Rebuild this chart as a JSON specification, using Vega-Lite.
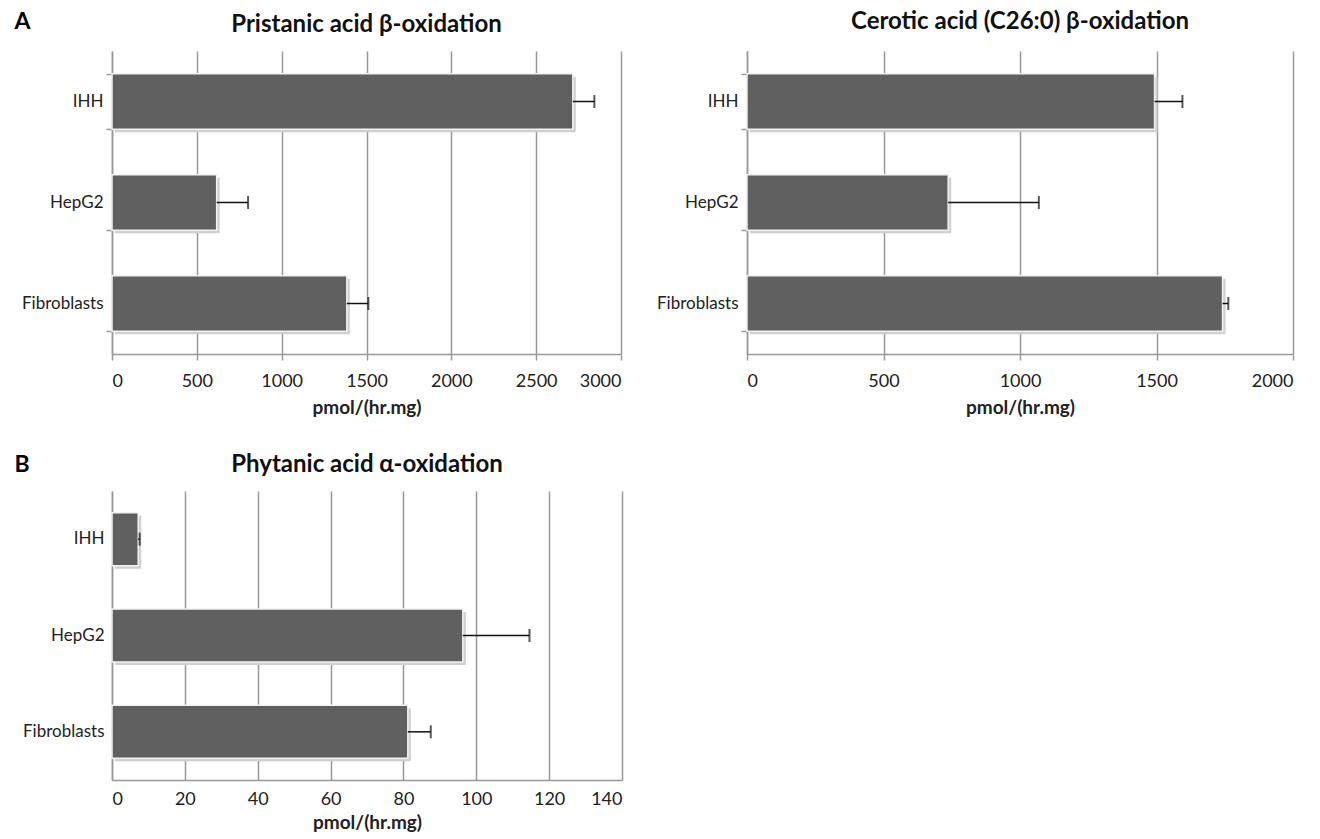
{
  "$schema": "https://vega.github.io/schema/vega-lite/v6.json",
  "padding": {"left": 14, "top": 10, "right": 5, "bottom": 0},
  "background": "white",
  "config": {
    "font": "Lato",
    "view": {"stroke": null},
    "title": {"font": "Lato", "fontSize": 24, "fontWeight": "bold", "color": "#111", "anchor": "middle", "offset": 8},
    "axis": {"labelFont": "Lato", "titleFont": "Lato", "domainColor": "#999", "tickColor": "#999", "gridColor": "#999", "domainWidth": 1.5, "tickWidth": 1.5, "gridWidth": 1.5, "labelColor": "#222", "titleColor": "#222"}
  },
  "data": {"values": [
    {"panel": "p1", "cell": "IHH", "value": 2716, "upper": 2843},
    {"panel": "p1", "cell": "HepG2", "value": 617, "upper": 802},
    {"panel": "p1", "cell": "Fibroblasts", "value": 1384, "upper": 1511},
    {"panel": "p2", "cell": "IHH", "value": 1493, "upper": 1595},
    {"panel": "p2", "cell": "HepG2", "value": 737, "upper": 1069},
    {"panel": "p2", "cell": "Fibroblasts", "value": 1742, "upper": 1763},
    {"panel": "p3", "cell": "IHH", "value": 7.2, "upper": 7.6},
    {"panel": "p3", "cell": "HepG2", "value": 96.3, "upper": 114.6},
    {"panel": "p3", "cell": "Fibroblasts", "value": 81.2, "upper": 87.5}
  ]},
  "columns": 2,
  "bounds": "flush",
  "align": "none",
  "spacing": {"row": 137, "column": 125},
  "concat": [
    {
      "width": 509, "height": 303,
      "title": {"text": "Pristanic acid β-oxidation", "offset": -27},
      "transform": [{"filter": "datum.panel === 'p1'"}],
      "encoding": {
        "y": {"field": "cell", "type": "nominal", "sort": ["IHH", "HepG2", "Fibroblasts"],
          "scale": {"paddingInner": 0.45, "paddingOuter": 0.225},
          "axis": {"title": "A", "titleAngle": 0, "titleX": -98, "titleY": -30, "titleAlign": "left", "titleBaseline": "middle", "titleFontSize": 23, "titleFontWeight": "bold", "titleColor": "#000", "labelFontSize": 17, "tickBand": "extent", "tickSize": 6, "labelPadding": 3}}
      },
      "layer": [
        {"mark": {"type": "bar", "color": "#d0d0d0", "xOffset": 3, "yOffset": 3},
         "encoding": {"x": {"field": "value", "type": "quantitative", "scale": {"domain": [0, 3000]},
           "axis": {"values": [0, 500, 1000, 1500, 2000, 2500, 3000], "format": "d", "grid": true, "title": "pmol/(hr.mg)", "titleFontSize": 19, "titleFontWeight": "bold", "labelFontSize": 18, "tickSize": 6, "labelPadding": 12, "titlePadding": 8}}}},
        {"mark": {"type": "bar", "color": "#606060", "stroke": "#f2f2f2", "strokeWidth": 1.5},
         "encoding": {"x": {"field": "value", "type": "quantitative"}}},
        {"mark": {"type": "rule", "color": "#111", "strokeWidth": 1.5},
         "encoding": {"x": {"field": "value", "type": "quantitative"}, "x2": {"field": "upper"}}},
        {"mark": {"type": "tick", "orient": "vertical", "color": "#111", "thickness": 2, "size": 13},
         "encoding": {"x": {"field": "upper", "type": "quantitative"}}}
      ]
    },
    {
      "width": 546, "height": 303,
      "title": {"text": "Cerotic acid (C26:0) β-oxidation"},
      "transform": [{"filter": "datum.panel === 'p2'"}],
      "encoding": {
        "y": {"field": "cell", "type": "nominal", "sort": ["IHH", "HepG2", "Fibroblasts"],
          "scale": {"paddingInner": 0.45, "paddingOuter": 0.225},
          "axis": {"title": null, "labelFontSize": 17, "tickBand": "extent", "tickSize": 6, "labelPadding": 3}}
      },
      "layer": [
        {"mark": {"type": "bar", "color": "#d0d0d0", "xOffset": 3, "yOffset": 3},
         "encoding": {"x": {"field": "value", "type": "quantitative", "scale": {"domain": [0, 2000]},
           "axis": {"values": [0, 500, 1000, 1500, 2000], "format": "d", "grid": true, "title": "pmol/(hr.mg)", "titleFontSize": 19, "titleFontWeight": "bold", "labelFontSize": 18, "tickSize": 6, "labelPadding": 12, "titlePadding": 8}}}},
        {"mark": {"type": "bar", "color": "#606060", "stroke": "#f2f2f2", "strokeWidth": 1.5},
         "encoding": {"x": {"field": "value", "type": "quantitative"}}},
        {"mark": {"type": "rule", "color": "#111", "strokeWidth": 1.5},
         "encoding": {"x": {"field": "value", "type": "quantitative"}, "x2": {"field": "upper"}}},
        {"mark": {"type": "tick", "orient": "vertical", "color": "#111", "thickness": 2, "size": 13},
         "encoding": {"x": {"field": "upper", "type": "quantitative"}}}
      ]
    },
    {
      "width": 510, "height": 289,
      "title": {"text": "Phytanic acid α-oxidation", "offset": -24},
      "transform": [{"filter": "datum.panel === 'p3'"}],
      "encoding": {
        "y": {"field": "cell", "type": "nominal", "sort": ["IHH", "HepG2", "Fibroblasts"],
          "scale": {"paddingInner": 0.45, "paddingOuter": 0.225},
          "axis": {"title": "B", "titleAngle": 0, "titleX": -98, "titleY": -27, "titleAlign": "left", "titleBaseline": "middle", "titleFontSize": 23, "titleFontWeight": "bold", "titleColor": "#000", "labelFontSize": 17, "ticks": false, "labelPadding": 8}}
      },
      "layer": [
        {"mark": {"type": "bar", "color": "#d0d0d0", "xOffset": 3, "yOffset": 3},
         "encoding": {"x": {"field": "value", "type": "quantitative", "scale": {"domain": [0, 140]},
           "axis": {"values": [0, 20, 40, 60, 80, 100, 120, 140], "format": "d", "grid": true, "ticks": false, "title": "pmol/(hr.mg)", "titleFontSize": 19, "titleFontWeight": "bold", "labelFontSize": 18, "labelPadding": 10, "titlePadding": 5}}}},
        {"mark": {"type": "bar", "color": "#606060", "stroke": "#f2f2f2", "strokeWidth": 1.5},
         "encoding": {"x": {"field": "value", "type": "quantitative"}}},
        {"mark": {"type": "rule", "color": "#111", "strokeWidth": 1.5},
         "encoding": {"x": {"field": "value", "type": "quantitative"}, "x2": {"field": "upper"}}},
        {"mark": {"type": "tick", "orient": "vertical", "color": "#111", "thickness": 2, "size": 13},
         "encoding": {"x": {"field": "upper", "type": "quantitative"}}}
      ]
    }
  ]
}
